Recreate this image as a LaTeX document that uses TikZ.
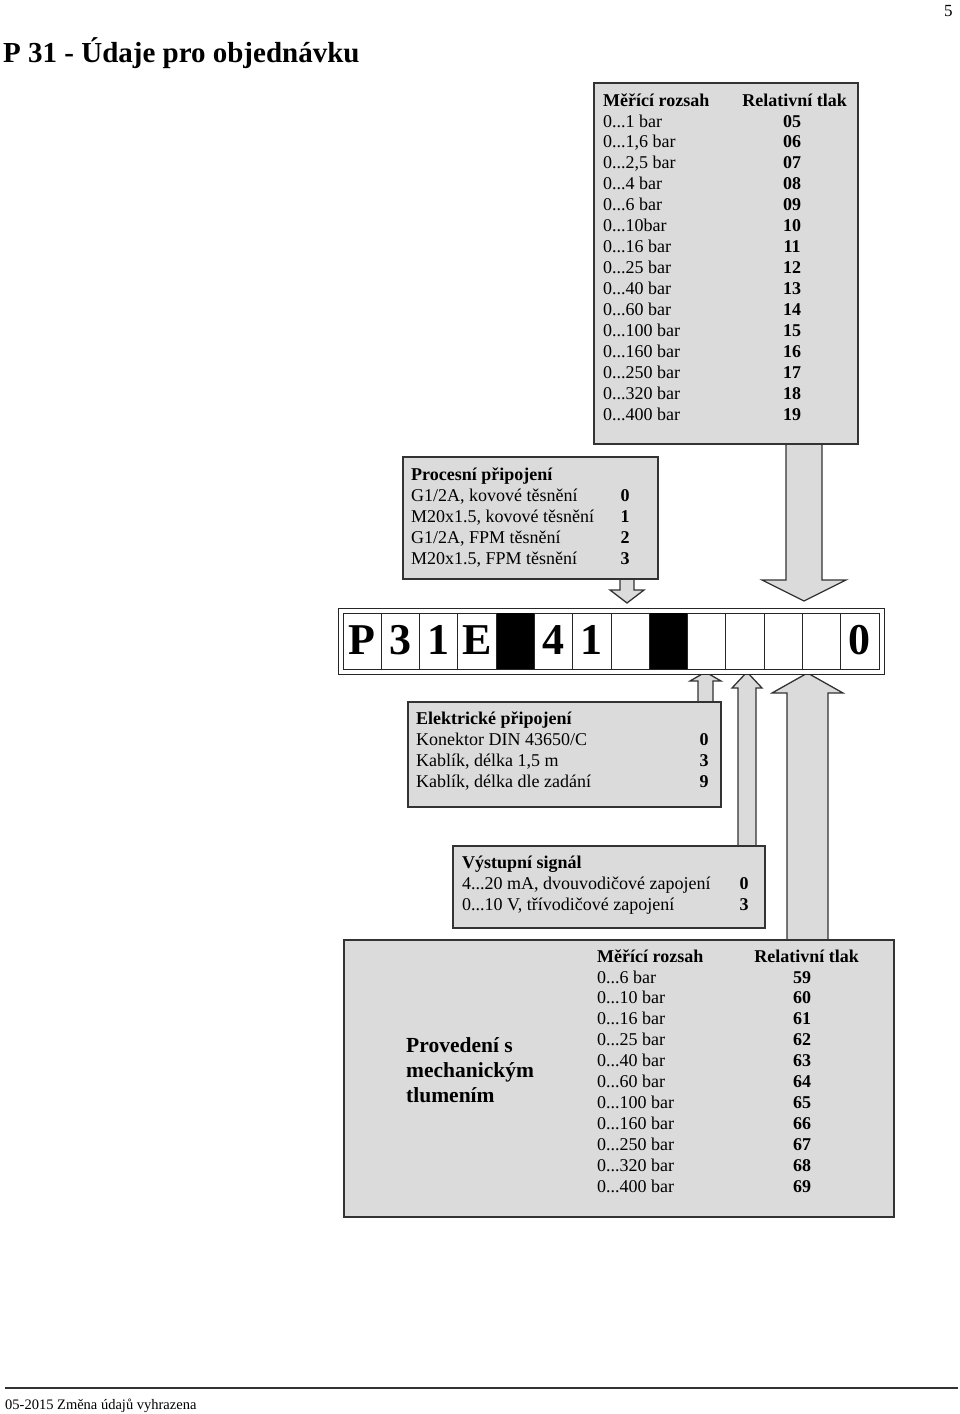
\documentclass[tikz,border=0pt]{standalone}
\usepackage{fontspec}
\setmainfont{Liberation Serif}
\newcommand{\dts}{...}
\begin{document}
\begin{tikzpicture}[x=1pt,y=-1pt,
  box/.style={draw=black!80, line width=1.5pt, fill=black!14, anchor=north west, inner sep=0pt},
  barr/.style={draw=black!80, line width=1.3pt, fill=black!14, line join=miter},
  frame/.style={draw=black!85, line width=1.3pt, anchor=north west, inner sep=0pt},
  txt/.style={anchor=base west, inner sep=0pt, font=\fontsize{18}{21}\selectfont},
  htxt/.style={txt, font=\fontsize{18}{21}\selectfont\bfseries},
  num/.style={anchor=base, inner sep=0pt, font=\fontsize{18}{21}\selectfont\bfseries},
  cell/.style={anchor=base, inner sep=0pt, font=\fontsize{44}{48}\selectfont\bfseries}]
\useasboundingbox (0,0) rectangle (960,1414);

% title and page number
\node[anchor=base west, inner sep=0pt, font=\fontsize{29}{32}\selectfont\bfseries] (title) at (3,62) {P 31 - Údaje pro objednávku};
\node[anchor=base west, inner sep=0pt, font=\fontsize{17}{20}\selectfont] (page) at (944,16) {5};

% block arrows (behind boxes)
\draw[barr] (786,443) -- (786,580) -- (762,580) -- (804,601) -- (846,580) -- (822,580) -- (822,443);
\draw[barr] (620,578) -- (620,590) -- (610,590) -- (627,603) -- (644,590) -- (634,590) -- (634,578);
\draw[barr] (698,701) -- (698,681) -- (690,681) -- (705.5,672) -- (721,681) -- (713,681) -- (713,701);
\draw[barr] (738,845) -- (738,688) -- (732,688) -- (747,672) -- (762,688) -- (756,688) -- (756,845);
\draw[barr] (787,939) -- (787,693) -- (772,693) -- (807.5,673) -- (843,693) -- (828,693) -- (828,939);

% boxes
\node[box, minimum width=264pt, minimum height=361pt] (topbox) at (593,82) {};
\node[box, minimum width=255pt, minimum height=122pt] (proc) at (402,456) {};
\node[box, minimum width=313pt, minimum height=105pt] (elek) at (407,701) {};
\node[box, minimum width=312pt, minimum height=82pt] (vyst) at (452,845) {};
\node[box, minimum width=550pt, minimum height=277pt] (bottom) at (343,939) {};

% top box text
\node[htxt] (th1) at (603,106) {Měřící rozsah};
\node[num, anchor=base east] (th2) at (847,106) {Relativní tlak};
\foreach \lab/\n [count=\i] in {0\dts1 bar/05, {0\dts1,6 bar}/06, {0\dts2,5 bar}/07, 0\dts4 bar/08, 0\dts6 bar/09, 0\dts10bar/10, 0\dts16 bar/11, 0\dts25 bar/12, 0\dts40 bar/13, 0\dts60 bar/14, 0\dts100 bar/15, 0\dts160 bar/16, 0\dts250 bar/17, 0\dts320 bar/18, 0\dts400 bar/19}{
  \node[txt] (tl\i) at (603,{127+20.93*(\i-1)}) {\lab};
  \node[num] (tn\i) at (792,{127+20.93*(\i-1)}) {\n};
}

% process connection
\node[htxt] (ph) at (411,480) {Procesní připojení};
\foreach \lab/\n [count=\i] in {{G1/2A, kovové těsnění}/0, {M20x1.5, kovové těsnění}/1, {G1/2A, FPM těsnění}/2, {M20x1.5, FPM těsnění}/3}{
  \node[txt] (pl\i) at (411,{501+21*(\i-1)}) {\lab};
  \node[num] (pn\i) at (625,{501+21*(\i-1)}) {\n};
}

% code bar
\node[frame, fill=white, minimum width=546pt, minimum height=66pt] (barout) at (338,608) {};
\node[frame, minimum width=536pt, minimum height=56pt] (barin) at (343,613) {};
\pgfmathsetmacro{\cw}{536/14}
\fill[black] ({343+4*\cw},613) rectangle ({343+5*\cw},669);
\fill[black] ({343+8*\cw},613) rectangle ({343+9*\cw},669);
\foreach \k in {1,...,13}{
  \draw[black!85, line width=1pt] ({343+\k*\cw},613) -- ({343+\k*\cw},669);
}
\foreach \c/\k in {P/1, 3/2, 1/3, E/4, 4/6, 1/7, 0/14}{
  \node[cell] (c\k) at ({343+(\k-0.5)*\cw},654) {\c};
}

% electrical connection
\node[htxt] (eh) at (416,724) {Elektrické připojení};
\foreach \lab/\n [count=\i] in {{Konektor DIN 43650/C}/0, {Kablík, délka 1,5 m}/3, {Kablík, délka dle zadání}/9}{
  \node[txt] (el\i) at (416,{745+21*(\i-1)}) {\lab};
  \node[num] (en\i) at (704,{745+21*(\i-1)}) {\n};
}

% output signal
\node[htxt] (vh) at (462,868) {Výstupní signál};
\foreach \lab/\n [count=\i] in {{4\dts20 mA, dvouvodičové zapojení}/0, {0\dts10 V, třívodičové zapojení}/3}{
  \node[txt] (vl\i) at (462,{889+21*(\i-1)}) {\lab};
  \node[num] (vn\i) at (744,{889+21*(\i-1)}) {\n};
}

% damping version
\node[htxt] (bh1) at (597,962) {Měřící rozsah};
\node[num, anchor=base east] (bh2) at (859,962) {Relativní tlak};
\foreach \lab/\n [count=\i] in {0\dts6 bar/59, 0\dts10 bar/60, 0\dts16 bar/61, 0\dts25 bar/62, 0\dts40 bar/63, 0\dts60 bar/64, 0\dts100 bar/65, 0\dts160 bar/66, 0\dts250 bar/67, 0\dts320 bar/68, 0\dts400 bar/69}{
  \node[txt] (bl\i) at (597,{983+20.95*(\i-1)}) {\lab};
  \node[num] (bn\i) at (802,{983+20.95*(\i-1)}) {\n};
}
\foreach \lab [count=\i] in {Provedení s, mechanickým, tlumením}{
  \node[anchor=base west, inner sep=0pt, font=\fontsize{21.5}{25}\selectfont\bfseries] (pv\i) at (406,{1052+25*(\i-1)}) {\lab};
}

% footer
\coordinate (fl) at (5,1388);
\coordinate (fr) at (958,1388);
\draw[black!80, line width=2pt] (fl) -- (fr);
\node[anchor=base west, inner sep=0pt, font=\fontsize{14.5}{16}\selectfont] (foot) at (5,1409) {05-2015 Změna údajů vyhrazena};
\end{tikzpicture}
\end{document}
